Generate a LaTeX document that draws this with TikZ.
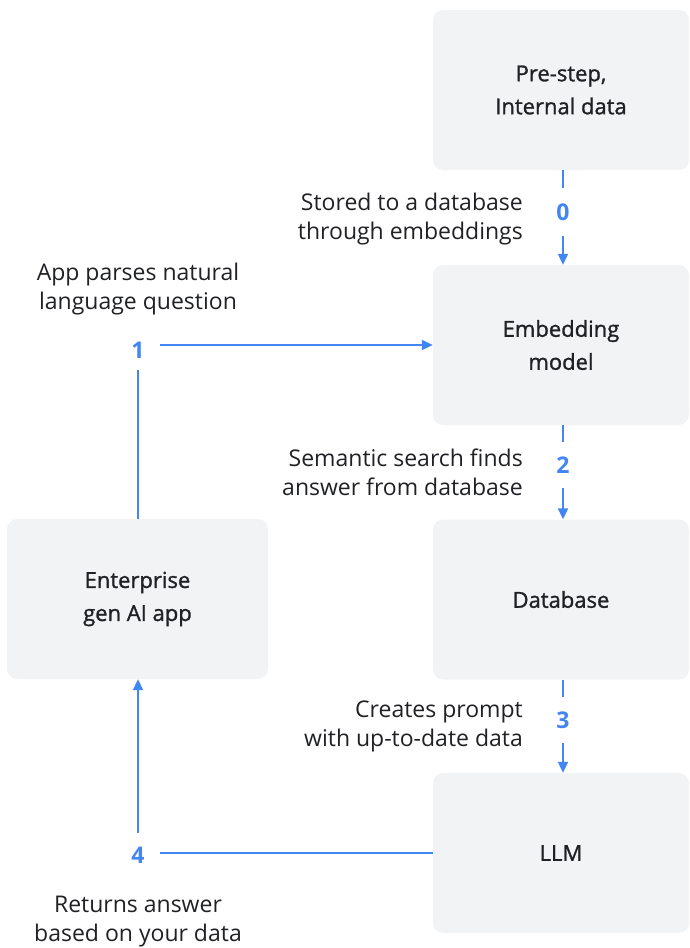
\documentclass[tikz,border=0pt]{standalone}
\usepackage{fontspec}
\setmainfont{Open Sans}
\newfontfamily\medfont[FakeBold=1.2]{Open Sans}
\usetikzlibrary{arrows.meta,calc}
\definecolor{gblue}{HTML}{4285F4}
\definecolor{boxfill}{HTML}{F1F3F4}
\definecolor{gtext}{HTML}{202124}
\begin{document}
\begin{tikzpicture}[x=1pt,y=-1pt,
  box/.style={fill=boxfill,rounded corners=10pt,minimum width=256pt,minimum height=160pt,inner sep=0pt,align=center,text=gtext,font=\fontsize{22}{33}\medfont},
  lbl/.style={align=center,text=gtext,inner sep=0pt,font=\fontsize{23}{29}\selectfont},
  num/.style={text=gblue,inner sep=0pt,font=\fontsize{23}{23}\selectfont\bfseries},
  conn/.style={draw=gblue,line width=2pt},
  arr/.style={conn,-{Triangle[length=11pt,width=10pt]}}]
\useasboundingbox (0,0) rectangle (689,948);
% boxes
\node[box] (pre) at (561,90) {Pre-step,\\Internal data};
\node[box] (emb) at (561,345) {Embedding\\model};
\node[box] (db) at (561,599.5) {Database};
\node[box] (llm) at (561,853) {LLM};
\node[box,minimum width=261pt,minimum height=160pt] (ent) at (137.5,599) {Enterprise\\gen AI app};
% numbers
\node[num,minimum width=44pt,minimum height=47pt] (n0) at (563,212) {0};
\node[num,minimum width=44pt,minimum height=45pt] (n2) at (563,465) {2};
\node[num,minimum width=44pt,minimum height=46pt] (n3) at (563,720) {3};
\node[num,minimum width=44pt,minimum height=40pt] (n1) at (138,350) {1};
\node[num,minimum width=44pt,minimum height=44pt] (n4) at (138,855) {4};
% labels
\node[lbl,anchor=east,align=right] (l0) at (523,219) {Stored to a database\\through embeddings};
\node[lbl,anchor=east,align=right] (l2) at (523,472) {Semantic search finds\\answer from database};
\node[lbl,anchor=east,align=right] (l3) at (523,726) {Creates prompt\\with up-to-date data};
\node[lbl] (l1) at (138,289) {App parses natural\\language question};
\node[lbl] (l4) at (138,922) {Returns answer\\based on your data};
% connectors
\draw[conn] (n0.north |- pre.south) -- (n0.north);
\draw[arr] (n0.south) -- (n0.south |- emb.north);
\draw[conn] (n2.north |- emb.south) -- (n2.north);
\draw[arr] (n2.south) -- (n2.south |- db.north);
\draw[conn] (n3.north |- db.south) -- (n3.north);
\draw[arr] (n3.south) -- (n3.south |- llm.north);
\draw[conn] (n1.south |- ent.north) -- (n1.south);
\draw[arr] (n1.east |- emb.west) -- (emb.west);
\draw[conn] (llm.west) -- (n4.east |- llm.west);
\draw[arr] (n4.north) -- (n4.north |- ent.south);
\end{tikzpicture}
\end{document}
